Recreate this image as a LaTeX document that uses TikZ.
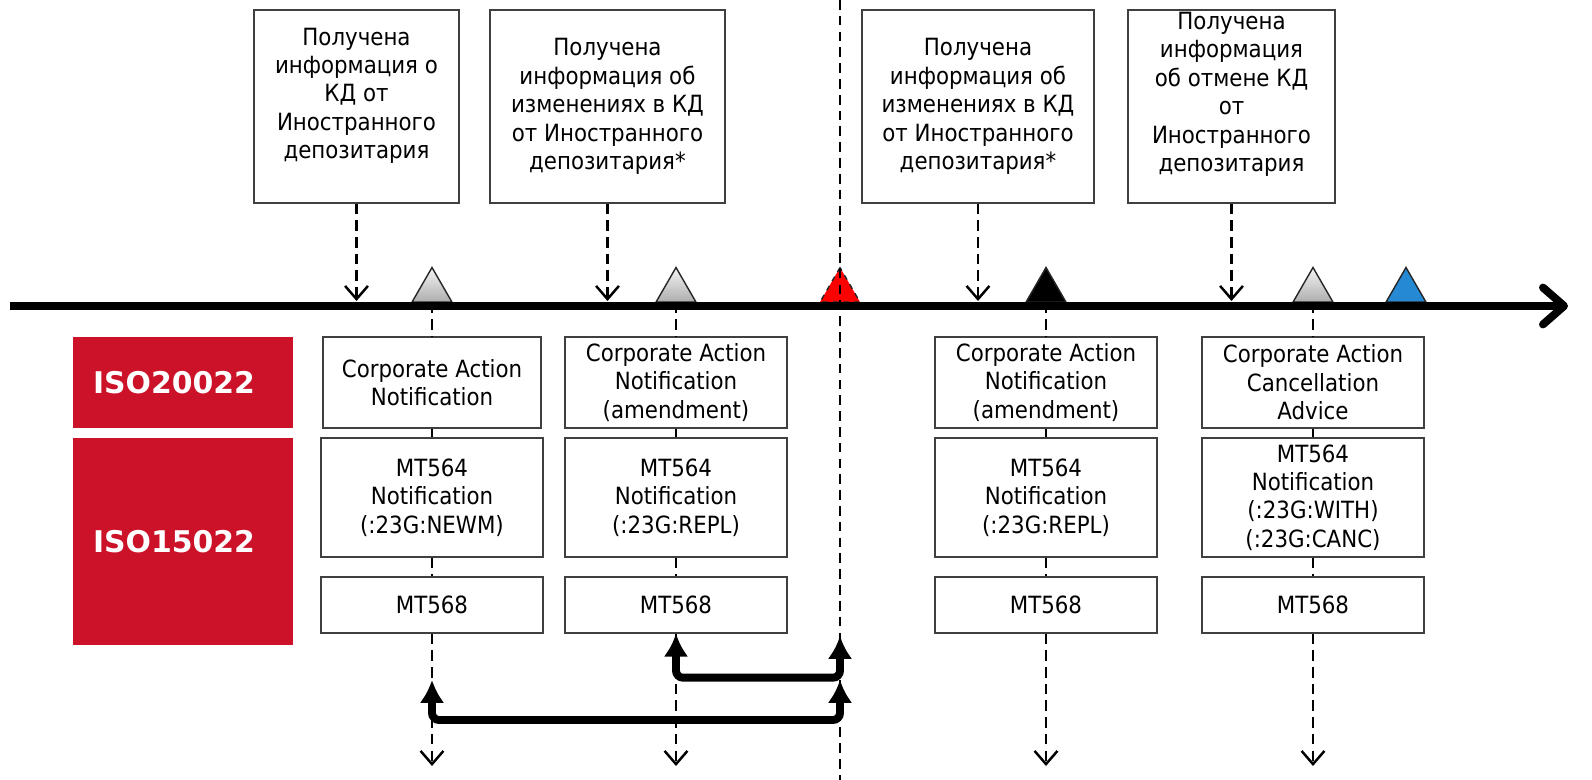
\documentclass[tikz,border=0pt]{standalone}
\usepackage{fontspec}
\setmainfont{DejaVu Sans Condensed}
\newfontfamily\isofont{DejaVu Sans}
\usetikzlibrary{arrows.meta,shapes.geometric}
\definecolor{isored}{HTML}{CC1228}
\definecolor{triblue}{HTML}{2589D3}
\definecolor{trired}{HTML}{FF0000}

\begin{document}
\begin{tikzpicture}[x=0.02cm, y=-0.02cm,
    box/.style={draw=black!75, line width=0.8pt, fill=white, align=center, inner sep=0pt, font=\fontsize{13.5}{16.2}\selectfont},
    topbox/.style={box, minimum height=3.86cm},
    msgbox/.style={box, minimum width=4.44cm},
    isobox/.style={fill=isored, text=white, minimum width=4.4cm, text width=3.6cm, align=left, inner xsep=0.4cm, inner ysep=0pt, font=\isofont\bfseries\fontsize{17}{20}\selectfont},
    tri/.style={regular polygon, regular polygon sides=3, minimum size=0.92cm, inner sep=0pt, draw=black!85, line width=0.8pt},
    grey tri/.style={tri, top color=black!4, bottom color=black!32},
    guide/.style={dash pattern=on 6pt off 3.5pt, line width=1.4pt},
    guide arrow/.style={guide, -{Straight Barb[length=7.5pt, width=13pt]}},
    loop arrow/.style={line width=4.5pt, rounded corners=4pt, {Latex[length=13pt, width=14pt]}-{Latex[length=13pt, width=14pt]}}]
    \useasboundingbox (0,0) rectangle (1592,780);

    %Nodes
    \node[isobox, minimum height=1.82cm] at (183,382.5) (lab1) {ISO20022};
    \node[isobox, minimum height=4.14cm] at (183,541.5) (lab2) {ISO15022};

    \node[topbox, minimum width=4.1cm, text depth=15pt] at (356.5,106.5) (k1) {Получена\\информация о\\КД от\\Иностранного\\депозитария};
    \node[topbox, minimum width=4.7cm] at (607.5,106.5) (k2) {Получена\\информация об\\изменениях в КД\\от Иностранного\\депозитария*};
    \node[topbox, minimum width=4.64cm] at (978,106.5) (k3) {Получена\\информация об\\изменениях в КД\\от Иностранного\\депозитария*};
    \node[topbox, minimum width=4.14cm, text depth=16.5pt] at (1231.5,106.5) (k4) {Получена\\информация\\об отмене КД\\от\\Иностранного\\депозитария};

    \node[grey tri] at (432,290.5) (t1) {};
    \node[grey tri] at (676,290.5) (t2) {};
    \node[tri, fill=trired, dashed] at (840,290.5) (t3) {};
    \node[tri, fill=black] at (1046,290.5) (t4) {};
    \node[grey tri] at (1313,290.5) (t5) {};
    \node[tri, fill=triblue] at (1406,290.5) (t6) {};

    \node[msgbox, minimum width=4.36cm, minimum height=1.82cm] at (432,382.5) (can1) {Corporate Action\\Notification};
    \node[msgbox, minimum height=2.38cm] at (432,497.5) (ntf1) {MT564\\Notification\\(:23G:NEWM)};
    \node[msgbox, minimum height=1.12cm] at (432,605) (nar1) {MT568};

    \node[msgbox, minimum height=1.82cm] at (676,382.5) (can2) {Corporate Action\\Notification\\(amendment)};
    \node[msgbox, minimum height=2.38cm] at (676,497.5) (ntf2) {MT564\\Notification\\(:23G:REPL)};
    \node[msgbox, minimum height=1.12cm] at (676,605) (nar2) {MT568};

    \node[msgbox, minimum height=1.82cm] at (1046,382.5) (can3) {Corporate Action\\Notification\\(amendment)};
    \node[msgbox, minimum height=2.38cm] at (1046,497.5) (ntf3) {MT564\\Notification\\(:23G:REPL)};
    \node[msgbox, minimum height=1.12cm] at (1046,605) (nar3) {MT568};

    \node[msgbox, minimum height=1.82cm] at (1313,382.5) (can4) {Corporate Action\\Cancellation\\Advice};
    \node[msgbox, minimum height=2.38cm] at (1313,497.5) (ntf4) {MT564\\Notification\\(:23G:WITH)\\(:23G:CANC)};
    \node[msgbox, minimum height=1.12cm] at (1313,605) (nar4) {MT568};

    \coordinate (tl) at (0,301);
    \coordinate (bot) at (0,766);
    \coordinate (start) at (10,306);
    \coordinate (end) at (1568,306);
    \coordinate (cut top) at (840,0);
    \coordinate (cut bottom) at (840,780);
    \coordinate (cut1) at (840,636);
    \coordinate (cut2) at (840,680);

    %Lines
    \draw[guide arrow] (k1.south) -- (k1.south |- tl);
    \draw[guide arrow] (k2.south) -- (k2.south |- tl);
    \draw[guide arrow] (k3.south) -- (k3.south |- tl);
    \draw[guide arrow] (k4.south) -- (k4.south |- tl);

    \draw[guide] (t1.side 2) -- (can1.north);
    \draw[guide] (can1.south) -- (ntf1.north);
    \draw[guide] (ntf1.south) -- (nar1.north);
    \draw[guide arrow] (nar1.south) -- (nar1.south |- bot);

    \draw[guide] (t2.side 2) -- (can2.north);
    \draw[guide] (can2.south) -- (ntf2.north);
    \draw[guide] (ntf2.south) -- (nar2.north);
    \draw[guide arrow] (nar2.south) -- (nar2.south |- bot);

    \draw[guide] (t4.side 2) -- (can3.north);
    \draw[guide] (can3.south) -- (ntf3.north);
    \draw[guide] (ntf3.south) -- (nar3.north);
    \draw[guide arrow] (nar3.south) -- (nar3.south |- bot);

    \draw[guide] (t5.side 2) -- (can4.north);
    \draw[guide] (can4.south) -- (ntf4.north);
    \draw[guide] (ntf4.south) -- (nar4.north);
    \draw[guide arrow] (nar4.south) -- (nar4.south |- bot);

    \draw[line width=4.5pt, -{Straight Barb[round, length=12pt, width=21pt]}] (start) -- (end);
    \draw[dash pattern=on 5.5pt off 3.5pt, line width=0.9pt] (cut top) -- (cut bottom);

    \draw[loop arrow] (nar2.south) -- ++(0,44) -| (cut1);
    \draw[loop arrow] (nar1.south |- cut2) -- ++(0,40) -| (cut2);

\end{tikzpicture}
\end{document}
